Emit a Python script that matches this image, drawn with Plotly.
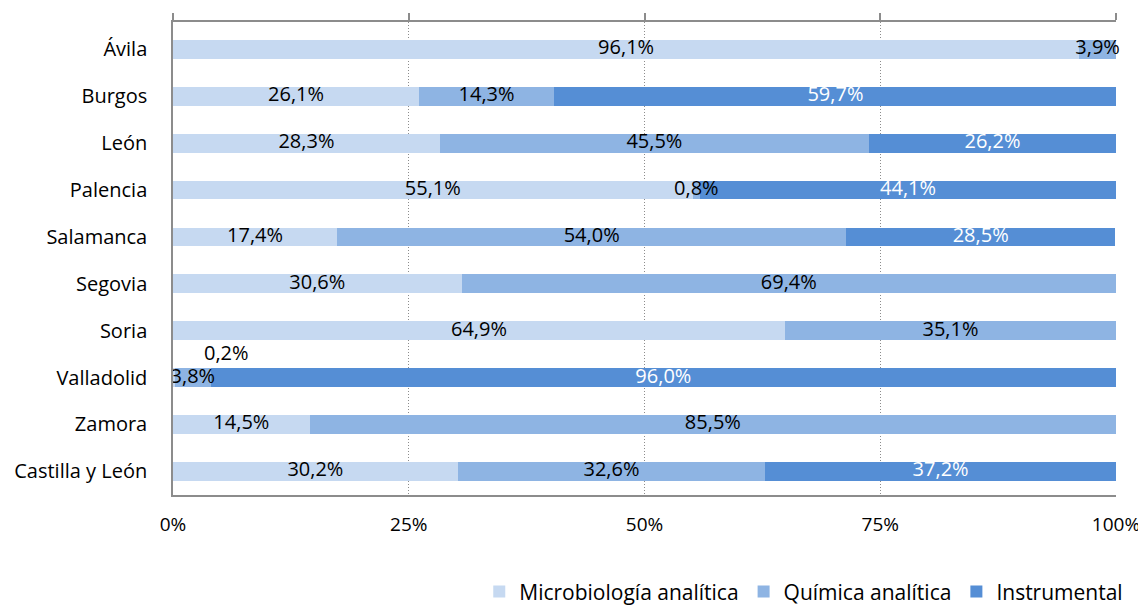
import plotly.graph_objects as go

cats = ["Ávila", "Burgos", "León", "Palencia", "Salamanca", "Segovia",
        "Soria", "Valladolid", "Zamora", "Castilla y León"]
micro = [96.1, 26.1, 28.3, 55.1, 17.4, 30.6, 64.9, 0.2, 14.5, 30.2]
quim = [3.9, 14.3, 45.5, 0.8, 54.0, 69.4, 35.1, 3.8, 85.5, 32.6]
instr = [0.0, 59.7, 26.2, 44.1, 28.5, 0.0, 0.0, 96.0, 0.0, 37.2]
series_names = ["Microbiología analítica", "Química analítica", "Instrumental"]
colors = ["#C6D9F1", "#8EB4E3", "#558ED5"]
text_colors = ["#000000", "#000000", "#FFFFFF"]
xticks = [0, 25, 50, 75, 100]
xticktext = ["0%", "25%", "50%", "75%", "100%"]

FONT = "Open Sans"
FS = 20

def fmt(v):
    return f"{v:.1f}%".replace(".", ",")

fig = go.Figure()
series = [micro, quim, instr]
for name, vals, col in zip(series_names, series, colors):
    fig.add_trace(go.Bar(
        y=cats, x=vals, name=name, orientation="h",
        marker=dict(color=col, line=dict(width=0)),
        width=0.4, hoverinfo="skip",
    ))

annotations = []
base = [0.0] * len(cats)
for si, vals in enumerate(series):
    xs, ys, ts = [], [], []
    for i, v in enumerate(vals):
        center = base[i] + v / 2
        if v > 0:
            if cats[i] == "Valladolid" and si == 0:
                annotations.append(dict(
                    x=center, y=cats[i], xref="x", yref="y", text=fmt(v),
                    showarrow=False, xshift=53, yshift=25,
                    font=dict(family=FONT, size=FS, color=text_colors[si])))
            else:
                xs.append(center); ys.append(cats[i]); ts.append(fmt(v))
        base[i] += v
    fig.add_trace(go.Scatter(
        x=xs, y=ys, text=ts, mode="text", showlegend=False, hoverinfo="skip",
        textfont=dict(family=FONT, size=FS, color=text_colors[si]),
        cliponaxis=False,
    ))

# dummy trace for top axis
fig.add_trace(go.Scatter(x=[0], y=[cats[0]], xaxis="x2", mode="markers",
                         marker=dict(opacity=0), showlegend=False, hoverinfo="skip"))

fig.update_layout(
    width=1138, height=597,
    margin=dict(l=165, r=30, t=14, b=110, autoexpand=False),
    paper_bgcolor="white", plot_bgcolor="white",
    barmode="stack",
    font=dict(family=FONT, size=FS, color="#000000"),
    annotations=annotations,
    xaxis=dict(range=[0, 100], tickvals=xticks, ticktext=xticktext,
               showgrid=True, gridcolor="#8C8C8C", griddash="1px,2px", gridwidth=1,
               showline=True, linecolor="#8C8C8C", linewidth=1.5,
               zeroline=False, ticks="", ticklabelstandoff=11,
               tickfont=dict(size=19),
               automargin=False, fixedrange=True),
    xaxis2=dict(range=[0, 100], overlaying="x", side="top", tickvals=xticks,
                showticklabels=False, showgrid=False, zeroline=False,
                showline=True, linecolor="#8C8C8C", linewidth=1.5,
                ticks="outside", ticklen=7, tickcolor="#8C8C8C", tickwidth=1.5,
                automargin=False),
    yaxis=dict(autorange="reversed", showline=True, linecolor="#8C8C8C",
               linewidth=1.5, ticks="", showgrid=False, zeroline=False,
               ticklabelstandoff=20, automargin=False),
    legend=dict(orientation="h", x=1.013, xanchor="right", y=-0.205,
                yanchor="middle", font=dict(family=FONT, size=21),
                traceorder="normal", itemwidth=30, tracegroupgap=0),
)

fig.write_html("out.html")
